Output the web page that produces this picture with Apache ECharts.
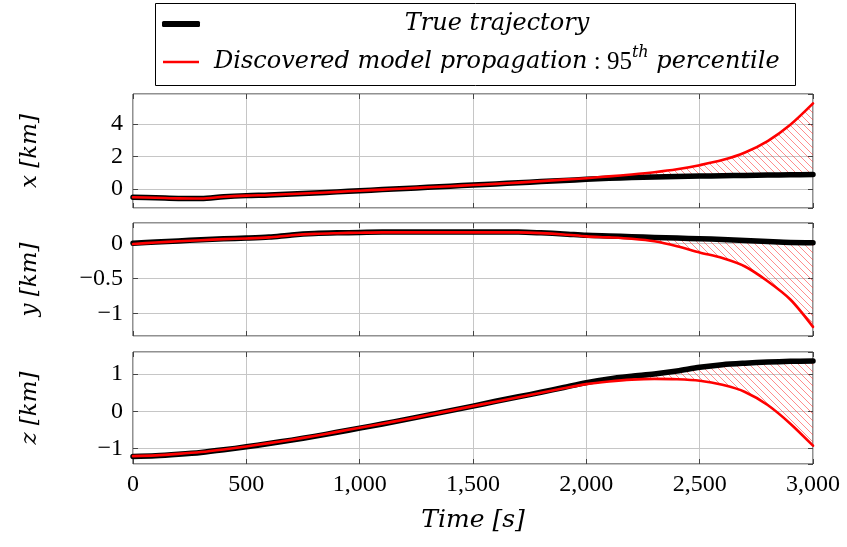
<!DOCTYPE html>
<html>
<head>
<meta charset="utf-8">
<script src="https://cdn.jsdelivr.net/npm/echarts@6/dist/echarts.min.js"></script>
<style>html,body{margin:0;padding:0;background:#fff}#c{width:847px;height:547px}</style>
</head>
<body>
<div id="c"></div>
<script>
// ---- data ----
const time = [0,100,200,300,400,500,600,700,800,900,1000,1100,1200,1300,1400,1500,1600,1700,1800,1900,2000,2100,2200,2300,2400,2500,2600,2700,2800,2900,3000];
const xTicks = [0,500,1000,1500,2000,2500,3000];

const xTrue = [-0.50,-0.53,-0.57,-0.58,-0.47,-0.40,-0.36,-0.30,-0.24,-0.17,-0.10,-0.03,0.04,0.11,0.18,0.25,0.32,0.39,0.46,0.53,0.60,0.66,0.71,0.75,0.78,0.80,0.82,0.84,0.86,0.88,0.90];
const xPred = [-0.50,-0.53,-0.57,-0.58,-0.47,-0.40,-0.36,-0.30,-0.24,-0.17,-0.10,-0.03,0.04,0.11,0.18,0.25,0.32,0.40,0.49,0.58,0.67,0.78,0.90,1.04,1.22,1.47,1.78,2.25,2.95,3.95,5.26];

const yTrue = [0.00,0.02,0.035,0.05,0.065,0.075,0.09,0.12,0.14,0.15,0.155,0.16,0.16,0.16,0.16,0.16,0.16,0.16,0.15,0.135,0.115,0.105,0.095,0.085,0.075,0.066,0.055,0.04,0.025,0.012,0.01];
const yPred = [-0.01,0.012,0.03,0.045,0.06,0.07,0.085,0.115,0.135,0.145,0.152,0.157,0.157,0.157,0.157,0.157,0.157,0.156,0.146,0.127,0.10,0.085,0.065,0.03,-0.04,-0.13,-0.21,-0.33,-0.54,-0.80,-1.19];

const zTrue = [-1.21,-1.19,-1.15,-1.10,-1.03,-0.95,-0.86,-0.77,-0.67,-0.56,-0.45,-0.34,-0.22,-0.10,0.02,0.14,0.27,0.39,0.51,0.64,0.77,0.87,0.94,1.00,1.08,1.18,1.25,1.29,1.32,1.34,1.35];
const zPred = [-1.20,-1.18,-1.14,-1.09,-1.02,-0.94,-0.85,-0.76,-0.66,-0.55,-0.44,-0.33,-0.22,-0.10,0.02,0.14,0.26,0.38,0.50,0.62,0.73,0.80,0.85,0.87,0.86,0.82,0.71,0.52,0.17,-0.33,-0.92];

const panelNames = ['x [km]','y [km]','z [km]'];
const yMin = [-1.16,-1.32,-1.41];
const yMax = [5.84,0.29,1.59];
const yStep = [2,0.5,1];
const trueName = 'True trajectory';
const predName = 'Discovered model propagation';

// ---- hatch pattern ----
const pc = document.createElement('canvas');
pc.width = 7; pc.height = 7;
const g = pc.getContext('2d');
g.strokeStyle = 'rgba(255,50,50,0.7)';
g.lineWidth = 0.8;
g.beginPath();
g.moveTo(0,0); g.lineTo(7,7);
g.moveTo(-1,6); g.lineTo(1,8);
g.moveTo(6,-1); g.lineTo(8,1);
g.stroke();

const serif = 'Liberation Serif';
const italicFont = 'DejaVu Serif';
const grids = [
  {left:133, top:94, width:680, height:114},
  {left:133, top:223, width:680, height:113},
  {left:133, top:352, width:680, height:112}
];
const trues = [xTrue,yTrue,zTrue];
const preds = [xPred,yPred,zPred];
const tickStyle = {show:true, inside:true, length:5, lineStyle:{color:'#444'}};

const xAxes = [], yAxes = [], series = [];
for (let i = 0; i < 3; i++) {
  const last = i === 2;
  xAxes.push({
    type:'value', gridIndex:i, position:'bottom', min:0, max:3000, minInterval:500, maxInterval:500,
    axisLine:{show:false, onZero:false},
    axisTick:tickStyle,
    splitLine:{show:true, lineStyle:{color:'#c6c6c6', width:1}},
    axisLabel:{show:last, fontFamily:serif, fontSize:24, color:'#000', margin:9,
      formatter:v => v.toLocaleString('en-US')},
    name: last ? 'Time [s]' : '', nameLocation:'middle', nameGap:44,
    nameTextStyle:{fontFamily:italicFont, fontStyle:'italic', fontSize:25, color:'#000'}
  });
  xAxes.push({
    type:'value', gridIndex:i, position:'top', min:0, max:3000, minInterval:500, maxInterval:500,
    axisLine:{show:false, onZero:false}, axisLabel:{show:false}, splitLine:{show:false},
    axisTick:tickStyle
  });
  const step = yStep[i];
  yAxes.push({
    type:'value', gridIndex:i, position:'left', min:yMin[i], max:yMax[i], minInterval:step, maxInterval:step,
    axisLine:{show:false, onZero:false},
    axisTick:tickStyle,
    splitLine:{show:true, lineStyle:{color:'#c6c6c6', width:1}},
    axisLabel:{fontFamily:serif, fontSize:24, color:'#000', margin:10, showMinLabel:false, showMaxLabel:false,
      formatter:v => {
        const k = v/step;
        if (Math.abs(k - Math.round(k)) > 1e-6) return '';
        const r = Math.round(k)*step;
        return (r < 0 ? '\u2212' : '') + String(Math.abs(+r.toFixed(3)));
      }},
    name: panelNames[i], nameLocation:'middle', nameGap:91, nameRotate:90,
    nameTextStyle:{fontFamily:italicFont, fontStyle:'italic', fontSize:23, color:'#000'}
  });
  yAxes.push({
    type:'value', gridIndex:i, position:'right', min:yMin[i], max:yMax[i], minInterval:step, maxInterval:step,
    axisLine:{show:false, onZero:false}, axisLabel:{show:false}, splitLine:{show:false},
    axisTick:tickStyle
  });
  const tr = trues[i], pr = preds[i];
  const xi = 2*i, yi = 2*i;
  // hatched region between the two curves
  series.push({
    name:'band'+i, type:'custom', xAxisIndex:xi, yAxisIndex:yi, silent:true, clip:true, z:1,
    data:[[time[0], tr[0]]],
    renderItem:(params, api) => {
      const pts = [];
      for (let j = 0; j < time.length; j++) pts.push(api.coord([time[j], Math.max(tr[j], pr[j])]));
      for (let j = time.length - 1; j >= 0; j--) pts.push(api.coord([time[j], Math.min(tr[j], pr[j])]));
      return {type:'polygon', shape:{points:pts}, style:{fill:{image:pc, repeat:'repeat'}, stroke:null}};
    }
  });
  series.push({
    name:trueName, type:'line', xAxisIndex:xi, yAxisIndex:yi,
    data:time.map((t,j) => [t, tr[j]]), showSymbol:false, symbol:'none', smooth:0.3,
    color:'#000', lineStyle:{color:'#000', width:5.5, cap:'round', join:'round'}, z:3
  });
  series.push({
    name:predName, type:'line', xAxisIndex:xi, yAxisIndex:yi,
    data:time.map((t,j) => [t, pr[j]]), showSymbol:false, symbol:'none', smooth:0.3,
    color:'#ff0000', lineStyle:{color:'#ff0000', width:2.6, cap:'round', join:'round'}, z:4
  });
}

const chart = echarts.init(document.getElementById('c'), null, {renderer:'canvas'});
chart.setOption({
  animation:false,
  backgroundColor:'#fff',
  grid: grids.map(gr => Object.assign({show:true, borderColor:'#222', borderWidth:1, backgroundColor:'transparent', containLabel:false}, gr)),
  xAxis:xAxes,
  yAxis:yAxes,
  legend:[
    {data:[trueName], left:162, top:12, itemWidth:38, itemHeight:6, itemGap:5, icon:'roundRect',
     selectedMode:false, padding:0,
     formatter:() => '{t|True trajectory}',
     textStyle:{rich:{t:{fontFamily:italicFont, fontStyle:'italic', fontSize:24, color:'#000', width:584, align:'center'}}}},
    {data:[predName], left:163, top:45, itemWidth:36, itemHeight:2.5, itemGap:5, icon:'rect',
     selectedMode:false, padding:0,
     formatter:() => '{s| }{a|Discovered model propagation}{n| : 95}{sup|th}{a| percentile}',
     textStyle:{rich:{
       s:{width:10, fontSize:22},
       a:{fontFamily:italicFont, fontStyle:'italic', fontSize:24, color:'#000'},
       n:{fontFamily:serif, fontSize:25, color:'#000'},
       sup:{fontFamily:italicFont, fontStyle:'italic', fontSize:16, color:'#000', padding:[0,0,18,0]}
     }}}
  ],
  graphic:[{type:'rect', shape:{x:155.5, y:3.5, width:640, height:82}, style:{fill:'none', stroke:'#000', lineWidth:1}, silent:true}],
  series:series
});
</script>
</body>
</html>
